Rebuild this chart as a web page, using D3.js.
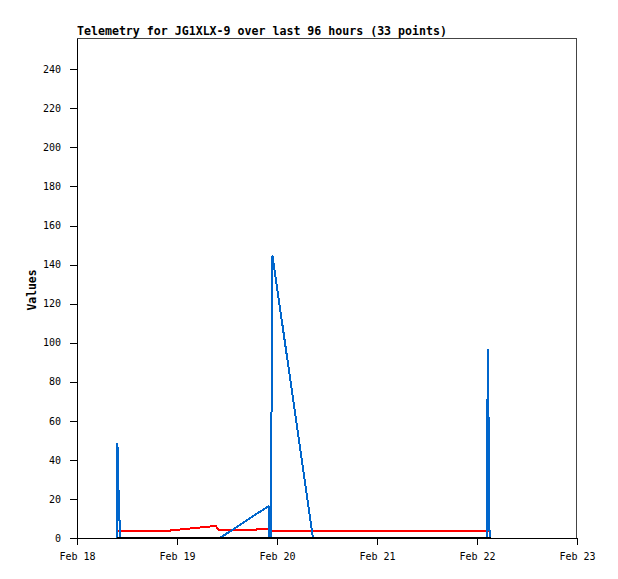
<!DOCTYPE html>
<html>
<head>
<meta charset="utf-8">
<script src="https://cdn.jsdelivr.net/npm/d3@7"></script>
<style>
  html, body { margin: 0; padding: 0; background: #fff; }
  svg { display: block; }
</style>
</head>
<body>
<script>
// ---- data ----
const titleText = "Telemetry for JG1XLX-9 over last 96 hours (33 points)";
const yLabel = "Values";
const times = [
  "2024-02-18 09:36", "2024-02-18 09:42", "2024-02-18 09:58", "2024-02-18 10:13",
  "2024-02-18 10:22", "2024-02-18 21:50", "2024-02-19 08:24", "2024-02-19 09:22",
  "2024-02-19 10:05", "2024-02-19 10:19", "2024-02-19 18:43", "2024-02-19 19:26",
  "2024-02-19 21:58", "2024-02-19 22:12", "2024-02-19 22:34", "2024-02-19 22:42",
  "2024-02-19 22:55", "2024-02-20 08:38", "2024-02-22 02:27", "2024-02-22 02:33",
  "2024-02-22 02:51", "2024-02-22 03:01", "2024-02-22 03:17"
];
const seriesBlue  = [0, 48.7, 24.5, 8, 0, 0, 0, 0, 0, 0, 11.8, 12.8, 16.3, 0, 0, 72.5, 144.6, 0, 0, 96.6, 48.4, 0, 0];
const seriesRed   = [3.7, 3.7, 3.7, 3.7, 3.7, 3.7, 6.0, 6.0, 3.9, 3.9, 3.9, 4.8, 4.8, 3.7, 3.7, 3.7, 3.7, 3.7, 3.7, 3.7, 3.7, 3.7, 3.7];
const seriesBlack = [0, 0, 0, 0, 0, 0, 0, 0, 0, 0, 0, 0, 0, 0, 0, 0, 0, 0, 0, 0, 0, 0, 0];
const yTicks = [0, 20, 40, 60, 80, 100, 120, 140, 160, 180, 200, 220, 240];
const xTickDates = ["2024-02-18", "2024-02-19", "2024-02-20", "2024-02-21", "2024-02-22", "2024-02-23"];
const yMax = 256;

// ---- layout ----
const W = 618, H = 579;
const m = { left: 77, top: 38, right: 41, bottom: 41 };
const pw = W - m.left - m.right, ph = H - m.top - m.bottom;

const parseT = d3.utcParse("%Y-%m-%d %H:%M");
const parseD = d3.utcParse("%Y-%m-%d");
const tDates = times.map(parseT);
const xTicks = xTickDates.map(parseD);

const x = d3.scaleUtc().domain([xTicks[0], xTicks[xTicks.length - 1]]).range([0, pw]);
const y = d3.scaleLinear().domain([0, yMax]).range([ph, 0]);

const svg = d3.select("body").append("svg").attr("width", W).attr("height", H)
  .style("font-family", "'DejaVu Sans Mono', 'Liberation Mono', monospace");

svg.append("text").attr("x", m.left).attr("y", 35)
  .style("font-size", "11.6px").style("font-weight", "bold").attr("fill", "#000")
  .text(titleText);

svg.append("text")
  .attr("transform", `translate(36,${m.top + ph / 2 + 2}) rotate(-90)`)
  .attr("text-anchor", "middle")
  .style("font-size", "11.4px").style("font-weight", "bold").attr("fill", "#000")
  .text(yLabel);

const g = svg.append("g").attr("transform", `translate(${m.left},${m.top})`);

// frame top/right
g.append("path").attr("d", `M0,0.5H${pw - 0.5}V${ph}`)
  .attr("fill", "none").attr("stroke", "#444").attr("shape-rendering", "crispEdges");

// axes
const yAxis = d3.axisLeft(y).tickValues(yTicks).tickSize(7).tickPadding(9).tickSizeOuter(0);
const yG = g.append("g").call(yAxis);
const xAxis = d3.axisBottom(x).tickValues(xTicks).tickFormat(d3.utcFormat("%b %d")).tickSize(7).tickPadding(8).tickSizeOuter(0);
const xG = g.append("g").attr("transform", `translate(0,${ph})`).call(xAxis);
[yG, xG].forEach(a => {
  a.selectAll("path, line").attr("stroke", "#000").attr("shape-rendering", "crispEdges");
  a.selectAll("text").style("font-size", "10px").style("font-family", "'DejaVu Sans Mono', monospace").attr("fill", "#000");
});

// series
const line = d3.line().x(d => x(d[0])).y(d => y(d[1]));
const series = [
  { vals: seriesRed, color: "#ff0000" },
  { vals: seriesBlue, color: "#0066cc" },
  { vals: seriesBlack, color: "#000000" }
];
series.forEach(s => {
  g.append("path")
    .datum(tDates.map((t, i) => [t, s.vals[i]]))
    .attr("d", line)
    .attr("fill", "none")
    .attr("stroke", s.color)
    .attr("stroke-width", 2)
    .attr("stroke-linejoin", "miter")
    .attr("shape-rendering", "crispEdges");
});
</script>
</body>
</html>
